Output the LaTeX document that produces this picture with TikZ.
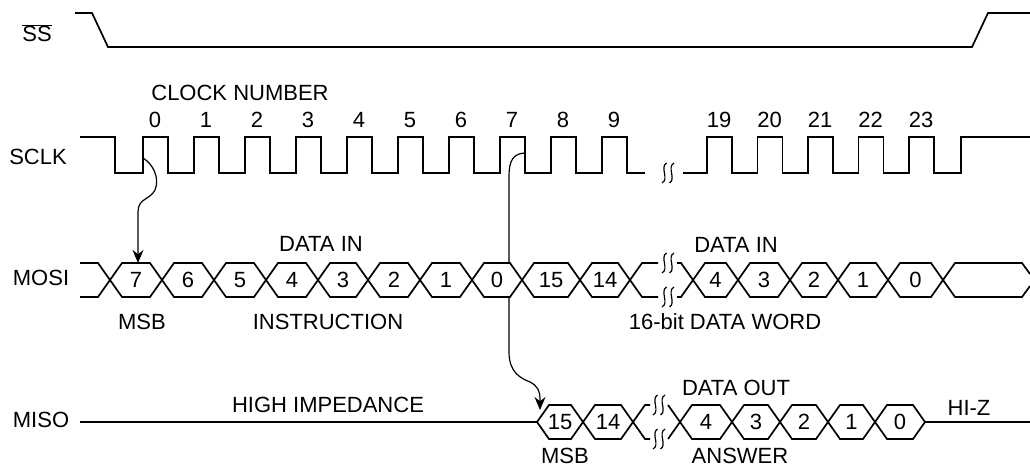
\documentclass[tikz,border=0pt]{standalone}
\usepackage{fontspec}
\setmainfont{Liberation Sans}
\usetikzlibrary{arrows.meta}
\newcommand\hexcell[5]{%
  \draw[cell] (#1,#3) -- ({#1+12},{#3-17}) -- ({#2-12},{#3-17}) -- (#2,#3)
     -- ({#2-12},{#3+17}) -- ({#1+12},{#3+17}) -- cycle;
  \node[lbl] (#5) at ({(#1+#2)/2},#3) {#4};}
\tikzset{
  sig/.style={line width=1.7pt, line join=miter},
  cell/.style={sig, fill=white},
  lbl/.style={inner sep=0pt, font=\fontsize{22}{26}\selectfont},
  conn/.style={line width=1.2pt, -{Stealth[length=13pt,width=11pt]}},
  brk/.pic={
    \draw[line width=1.2pt] (-1.5,-10) .. controls (-8.5,-6) and (1.5,6) .. (-6,10);
    \draw[line width=1.2pt] (6,-10) .. controls (-1.5,-6) and (8.5,6) .. (1.5,10);
  }
}
\begin{document}
\begin{tikzpicture}[x=1pt,y=-1pt]
\useasboundingbox[fill=white] (0,0) rectangle (1030,468);

% signal names
\node[lbl] (ssl) at (37,33) {$\overline{\hbox{SS}}$};
\node[lbl] (sclkl) at (38,157) {SCLK};
\node[lbl] (mosil) at (41,278) {MOSI};
\node[lbl] (misol) at (41,420) {MISO};

% SS
\draw[sig] (75,13) -- (92,13) -- (108,47) -- (972,47) -- (988,13) -- (1030,13);

% SCLK
\node[lbl] (clkn) at (240,93) {CLOCK NUMBER};
\draw[sig] (80,137) -- (115,137) -- (115,173)
  foreach \k in {0,...,9} { -- ({143+51*\k},173) -- ({143+51*\k},137)
      -- ({168+51*\k},137) -- ({168+51*\k},173) } -- (645,173);
\foreach \k in {0,...,9} \node[lbl] (cn\k) at ({155+51*\k},120) {\k};
\pic at (668,173) {brk};
\draw[sig] (683,173)
  foreach \k in {0,...,4} { -- ({707+50.5*\k},173) -- ({707+50.5*\k},137)
      -- ({732+50.5*\k},137) -- ({732+50.5*\k},173) } -- (961,173) -- (961,137) -- (1030,137);
\foreach \k/\t in {0/19,1/20,2/21,3/22,4/23} \node[lbl] (cn\t) at ({719+50.5*\k},120) {\t};

% arrows
\coordinate (a1s) at (143,158);
\coordinate (a1t) at (138,263);
\draw[conn] (a1s) .. controls (153,164) and (160,178) .. (155,190)
  .. controls (150,200) and (138,198) .. (138,212) -- (a1t);
\coordinate (a2s) at (526,153);
\coordinate (a2t) at (540,410);
\draw[conn] (a2s) .. controls (513,153) and (509,161) .. (509,176) -- (509,352)
  .. controls (509,372) and (520,378) .. (530,382)
  .. controls (538,386) and (540,392) .. (540,398) -- (a2t);

% MOSI bus
\draw[sig] (80,263) -- (98,263) -- (110,280) -- (98,297) -- (80,297);
\foreach \a/\b/\t/\n in {110/162/7/mo7a, 162/214/6/mo6a, 214/266/5/mo5a,
   266/318/4/mo4a, 318/368/3/mo3a, 368/420/2/mo2a, 420/472/1/mo1a,
   472/522/0/mo0a, 522/580/15/mo15, 580/630/14/mo14,
   693/738/4/mo4b, 738/790/3/mo3b, 790/838/2/mo2b, 838/888/1/mo1b, 888/943/0/mo0b}
  {\hexcell{\a}{\b}{280}{\t}{\n}}
\draw[sig] (658,263) -- (642,263) -- (630,280) -- (642,297) -- (658,297);
\draw[sig] (677,263) -- (681,263) -- (693,280) -- (681,297) -- (677,297);
\pic at (668,263) {brk};
\pic at (668,297) {brk};
\draw[sig] (1030,274) -- (1022,263) -- (955,263) -- (943,280) -- (955,297) -- (1022,297) -- (1030,286);
\node[lbl] (din1) at (321,244) {DATA IN};
\node[lbl] (msb1) at (142,322) {MSB};
\node[lbl] (instr) at (328,322) {INSTRUCTION};
\node[lbl] (din2) at (736,245) {DATA IN};
\node[lbl] (dword) at (725,322) {16-bit DATA WORD};

% MISO bus
\draw[sig] (80,422) -- (537,422);
\foreach \a/\b/\t/\n in {537/583/15/mi15, 583/633/14/mi14,
   680/732/4/mi4, 732/780/3/mi3, 780/828/2/mi2, 828/875/1/mi1, 875/925/0/mi0}
  {\hexcell{\a}{\b}{422}{\t}{\n}}
\draw[sig] (650,405) -- (645,405) -- (633,422) -- (645,439) -- (650,439);
\draw[sig] (668,405) -- (680,422) -- (668,439);
\pic at (659,405) {brk};
\pic at (659,439) {brk};
\draw[sig] (925,422) -- (1030,422);
\node[lbl] (hiimp) at (328,405) {HIGH IMPEDANCE};
\node[lbl] (dout) at (736,388) {DATA OUT};
\node[lbl] (msb2) at (565,456) {MSB};
\node[lbl] (answ) at (740,456) {ANSWER};
\node[lbl] (hiz) at (969,408) {HI-Z};
\end{tikzpicture}
\end{document}
